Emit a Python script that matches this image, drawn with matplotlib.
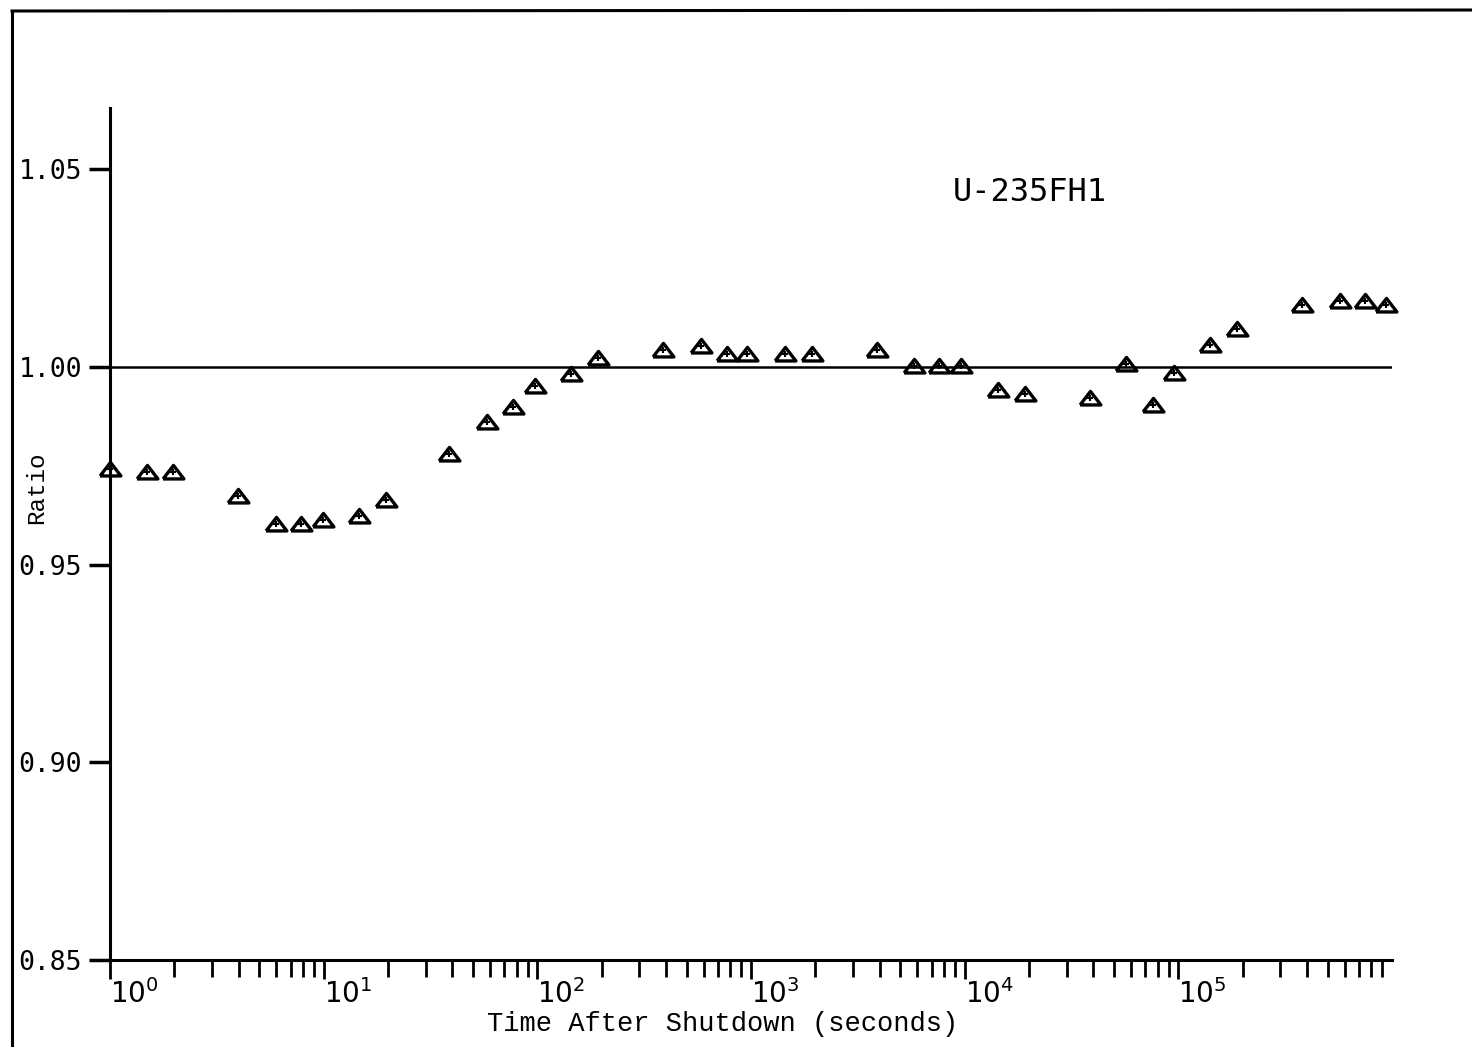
import matplotlib
matplotlib.use('Agg')
import matplotlib.pyplot as plt
import matplotlib.ticker as mticker
import numpy as np

plt.rcParams['mathtext.fontset'] = 'custom'
plt.rcParams['mathtext.rm'] = 'DejaVu Sans Mono'

# Data
time_s = [1.0, 1.49, 1.97, 3.96, 5.97, 7.8, 9.9, 14.7, 19.5, 38.8,
          58.4, 77.3, 97.8, 144, 193, 388, 584, 773, 956, 1442,
          1928, 3880, 5780, 7570, 9560, 14260, 19060, 38400, 57100, 76400,
          95800, 141000, 189000, 380000, 571000, 748000, 938000]
ratio = [0.9741, 0.9734, 0.9734, 0.9673, 0.9603, 0.9603, 0.9613, 0.9623, 0.9663, 0.9781,
         0.9862, 0.9899, 0.9952, 0.9982, 1.0023, 1.0043, 1.0053, 1.0033, 1.0033, 1.0033,
         1.0033, 1.0043, 1.0003, 1.0003, 1.0003, 0.9942, 0.9932, 0.9922, 1.0008, 0.9905,
         0.9985, 1.0055, 1.0095, 1.0158, 1.0166, 1.0166, 1.0156]
y_ticks = [0.85, 0.90, 0.95, 1.00, 1.05]
x_decades = [1e0, 1e1, 1e2, 1e3, 1e4, 1e5]
label = 'U-235FH1'

fig = plt.figure(figsize=(14.72, 10.55), dpi=100)
ax = fig.add_axes([0.0747, 0.0900, 0.8710, 0.8076])

# flattened open triangle marker with a small tick inside
tri = [(-1, -0.62), (1, -0.62), (0, 0.68), (-1, -0.62)]
ax.plot(time_s, ratio, linestyle='none', marker=tri, markersize=15,
        markerfacecolor='none', markeredgecolor='black', markeredgewidth=2.4,
        clip_on=False, zorder=3)
ax.plot(time_s, ratio, linestyle='none', marker='+', markersize=5,
        markeredgecolor='black', markeredgewidth=1.5, clip_on=False, zorder=3)

ax.axhline(1.0, color='black', linewidth=1.8)

ax.set_xscale('log')
ax.set_xlim(1, 1e6)
ax.set_ylim(0.85, 1.0655)

for s in ['top', 'right']:
    ax.spines[s].set_visible(False)
for s in ['left', 'bottom']:
    ax.spines[s].set_linewidth(2.2)

ax.set_yticks(y_ticks)
ax.yaxis.set_major_formatter(mticker.FormatStrFormatter('%.2f'))
ax.tick_params(axis='y', direction='out', length=15, width=2.5, pad=5,
               labelsize=19)
for t in ax.get_yticklabels():
    t.set_family('DejaVu Sans Mono')

ax.xaxis.set_major_locator(mticker.FixedLocator(x_decades))
ax.xaxis.set_minor_locator(mticker.LogLocator(base=10, subs=np.arange(2, 10), numticks=20))
ax.xaxis.set_minor_formatter(mticker.NullFormatter())
ax.set_xticklabels([r'$\mathregular{10^{%d}}$' % int(np.log10(v)) for v in x_decades])
ax.tick_params(axis='x', which='major', direction='out', length=14, width=2.0,
               pad=0, labelsize=20)
ax.tick_params(axis='x', which='minor', direction='out', length=12, width=2.0)
for t in ax.get_xticklabels():
    t.set_horizontalalignment('left')

ax.set_xlabel('Time After Shutdown (seconds)', family='Liberation Mono',
              fontsize=19.5)
ax.xaxis.set_label_coords(0.478, -0.060)
ax.set_ylabel('Ratio', family='Liberation Mono', fontsize=17.5)
ax.yaxis.set_label_coords(-0.048, 0.554)

ax.text(0.657, 0.901, label, transform=ax.transAxes, family='DejaVu Sans Mono',
        fontsize=23, ha='left', va='center')

# page border from the scan
fig.add_artist(plt.Line2D([12 / 1472, 12 / 1472], [1 - 1045 / 1055, 1 - 12 / 1055],
                          transform=fig.transFigure, color='black', linewidth=2.2))
fig.add_artist(plt.Line2D([12 / 1472, 1.0], [1 - 11 / 1055, 1 - 10 / 1055],
                          transform=fig.transFigure, color='black', linewidth=2.2))

fig.savefig('out.png', dpi=100)
